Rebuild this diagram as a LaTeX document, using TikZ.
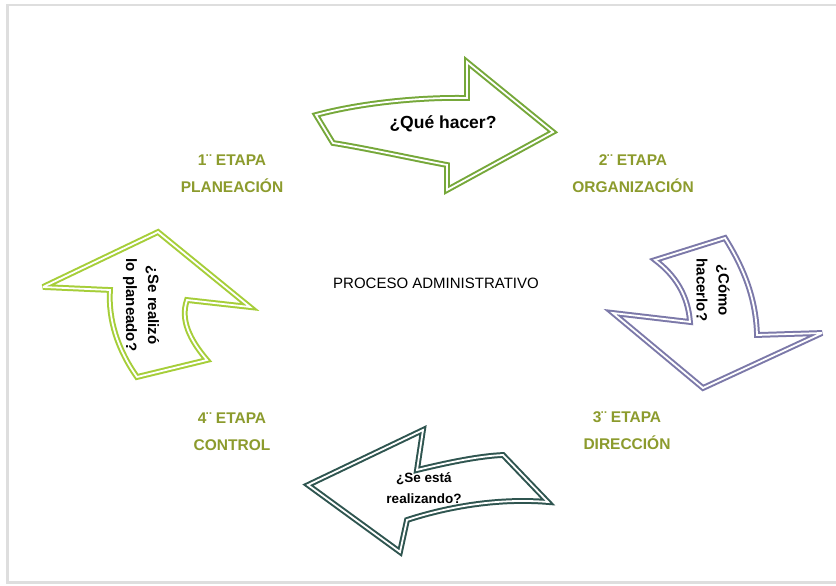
\documentclass[tikz,border=0pt]{standalone}
\usepackage{fontspec}
\setmainfont{Liberation Sans}

\definecolor{verdeuno}{RGB}{118,168,58}
\definecolor{verdecuatro}{RGB}{166,206,57}
\definecolor{lila}{RGB}{124,121,169}
\definecolor{petroleo}{RGB}{47,85,80}
\definecolor{olivo}{RGB}{140,155,45}

\begin{document}
\begin{tikzpicture}[x=1pt,y=-1pt,
   flecha/.style={draw=#1,double=white,line width=2pt,double distance=1.8pt,miter limit=4,fill=white},
   etapa/.style={font=\bfseries\fontsize{15.5}{27}\selectfont,text=olivo,align=center},
   pregunta/.style={font=\bfseries\fontsize{15}{22}\selectfont,align=center}]
\useasboundingbox (0,0) rectangle (836,586);
\fill[black!13] (6,4) rectangle (836,584);
\fill[white] (9,6) rectangle (836,581);

% flechas
\draw[flecha=verdeuno] (316,115) .. controls (360,103) and (420,97) .. (467,98)
   -- (467,62) -- (553,132) -- (447,190) -- (447,165)
   .. controls (410,158) and (365,148) .. (333,143) -- cycle;
\draw[flecha=lila] (655,260) -- (725,238) .. controls (745,270) and (756,300) .. (757,335)
   -- (822,333) -- (703,388) -- (613,313) -- (690,322)
   .. controls (688,295) and (675,275) .. cycle;
\draw[flecha=petroleo] (308,485) -- (423,430) -- (417,470)
   .. controls (450,462) and (480,456) .. (503,455) -- (548,502)
   .. controls (500,498) and (450,506) .. (407,520) -- (400,552) -- cycle;
\draw[flecha=verdecuatro] (43,287) -- (158,232) -- (250,307) -- (187,300)
   .. controls (180,320) and (190,340) .. (207,360) -- (137,377)
   .. controls (118,350) and (108,320) .. (110,290) -- cycle;

% textos
\node[pregunta,font=\bfseries\fontsize{17.5}{22}\selectfont] (que) at (443,124) {¿Qué hacer?};
\node[pregunta,rotate=-90] (como) at (713,290) {¿Cómo\\hacerlo?};
\node[pregunta,font=\bfseries\fontsize{13.5}{21}\selectfont] (esta) at (424,488) {¿Se está\\realizando?};
\node[pregunta,rotate=-90] (realizo) at (141,305) {¿Se realizó\\lo planeado?};

\node[etapa] (e1) at (232,174) {1¨ ETAPA\\PLANEACIÓN};
\node[etapa] (e2) at (633,174) {2¨ ETAPA\\ORGANIZACIÓN};
\node[etapa] (e3) at (627,431) {3¨ ETAPA\\DIRECCIÓN};
\node[etapa] (e4) at (232,432) {4¨ ETAPA\\CONTROL};

\node[font=\fontsize{15}{16}\selectfont] (proceso) at (436,283) {PROCESO ADMINISTRATIVO};
\end{tikzpicture}
\end{document}
